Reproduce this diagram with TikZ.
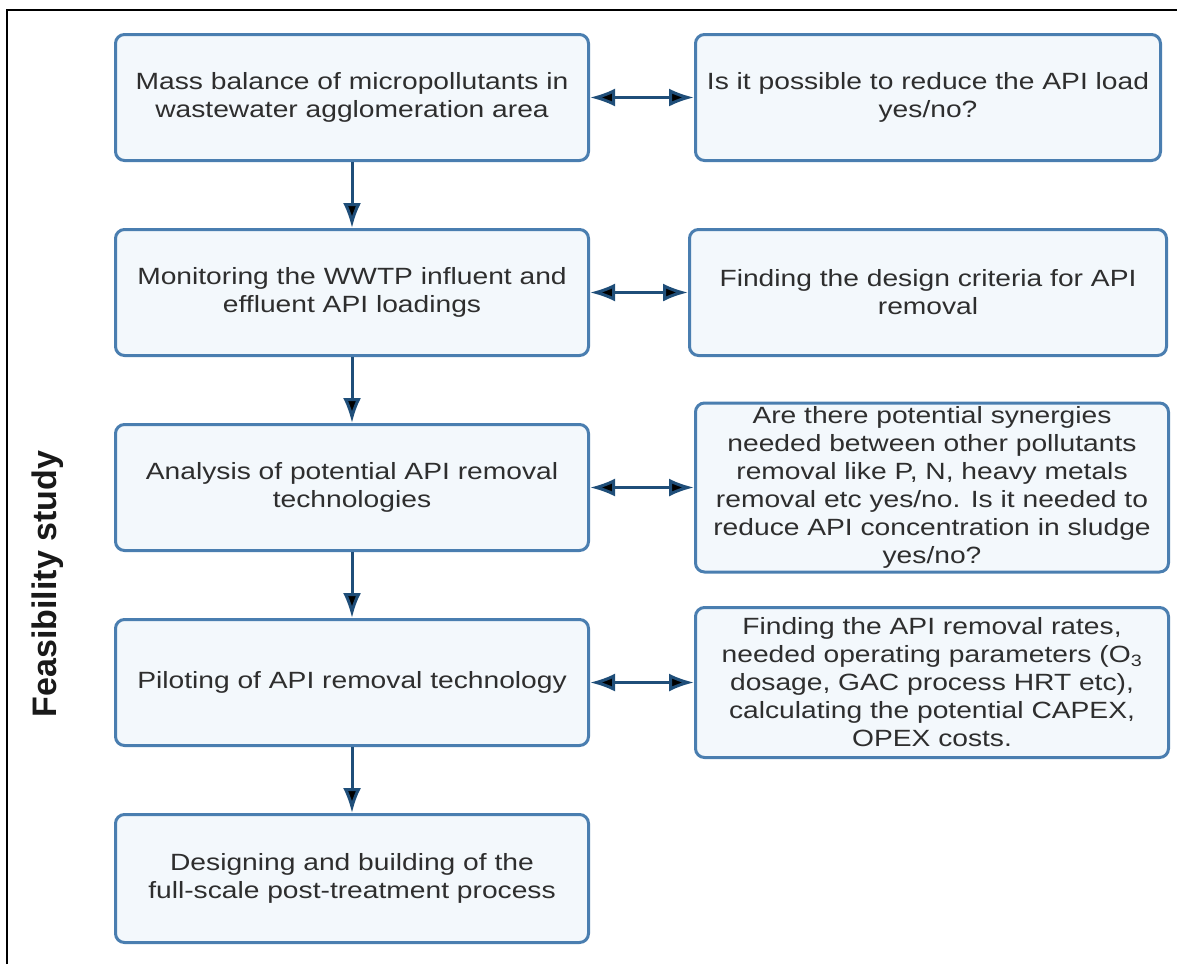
\documentclass[tikz,border=0pt]{standalone}
\usepackage{fontspec}
\setmainfont{Liberation Sans}
\newfontfamily\boxfont[FakeStretch=1.2]{Liberation Sans}
\usetikzlibrary{arrows.meta,positioning}
\definecolor{boxline}{HTML}{4A7EB0}
\definecolor{boxfill}{HTML}{F3F8FC}
\definecolor{arrowblue}{HTML}{1F4E79}
\definecolor{boxtext}{HTML}{2E2E2E}

\begin{document}
\begin{tikzpicture}[x=1pt, y=-1pt, >={Latex[length=25pt,width=18pt]}, node distance=66pt]
\tikzstyle{stepbox}=[draw=boxline, fill=boxfill, line width=3pt, rounded corners=9pt, text=boxtext, align=center, font=\boxfont\fontsize{23.5}{28}\selectfont, minimum width=473pt, minimum height=126pt, inner sep=0pt]
\tikzstyle{link}=[draw=arrowblue, line width=3pt]
\useasboundingbox (0,0) rectangle (1177,964);
\draw[line width=2.5pt] (7,964) -- (7,10) -- (1177,10);

\node[stepbox]    (1) at (352,97.5)  {Mass balance of micropollutants in\\wastewater agglomeration area};
\node[stepbox]    (2)[below=of 1]    {Monitoring the WWTP influent and\\effluent API loadings};
\node[stepbox]    (3)[below=of 2]    {Analysis of potential API removal\\technologies};
\node[stepbox]    (4)[below=of 3]    {Piloting of API removal technology};
\node[stepbox, minimum height=128pt] (5)[below=of 4] {Designing and building of the\\full-scale post-treatment process};

\node[stepbox, minimum width=465pt] (6)[right=104pt of 1] {Is it possible to reduce the API load\\yes/no?};
\node[stepbox, minimum width=477pt] (7)[right=98pt of 2]  {Finding the design criteria for API\\removal};
\node[stepbox, minimum height=169pt] (8)[right=104pt of 3] {Are there potential synergies\\needed between other pollutants\\removal like P, N, heavy metals\\removal etc yes/no. Is it needed to\\reduce API concentration in sludge\\yes/no?};
\node[stepbox, minimum height=150pt] (9)[right=104pt of 4] {Finding the API removal rates,\\needed operating parameters (O\textsubscript{3}\\dosage, GAC process HRT etc),\\calculating the potential CAPEX,\\OPEX costs.};

\node[rotate=90, font=\bfseries\fontsize{34}{40}\selectfont, text=black!90] (side) at (48,584) {Feasibility study};

\path[link, ->]
(1) edge (2)
(2) edge (3)
(3) edge (4)
(4) edge (5);
\path[link, <->]
(1) edge (6)
(2) edge (7)
(3) edge (8)
(4) edge (9);
\end{tikzpicture}
\end{document}
